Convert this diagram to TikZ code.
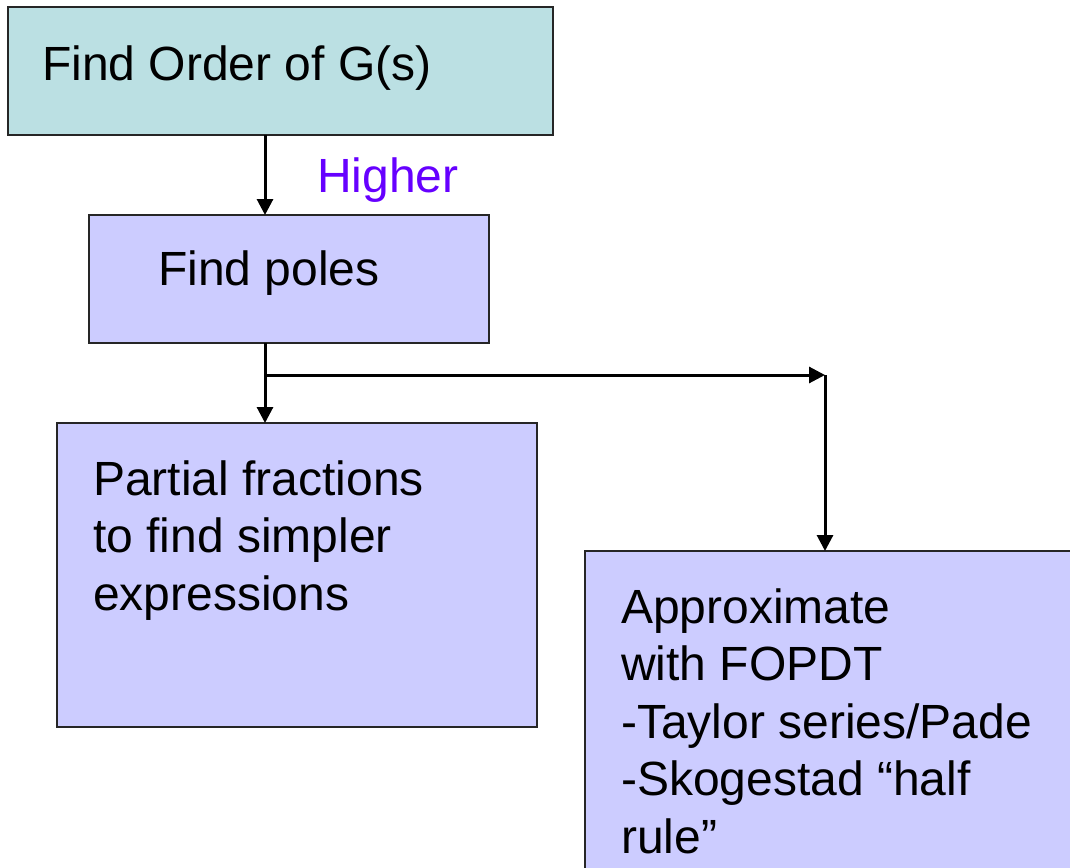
\documentclass[tikz,border=0pt]{standalone}
\usepackage{fontspec}
\setmainfont{Liberation Sans}
\usetikzlibrary{arrows.meta}

\definecolor{boxteal}{RGB}{187,224,227}
\definecolor{boxlilac}{RGB}{204,204,255}
\definecolor{branchpurple}{RGB}{102,0,255}

\begin{document}
\begin{tikzpicture}[
  x=1pt, y=-1pt,
  stepbox/.style={draw=black!85, line width=1.5pt, inner sep=0pt, outer sep=0pt, anchor=north west},
  boxtext/.style={anchor=base west, align=left, inner sep=0pt, font=\fontsize{48}{57.5}\selectfont},
  flow/.style={-{Triangle[length=16pt, width=16pt]}, line width=3pt, draw=black}
]

% Canvas
\useasboundingbox (0,0) rectangle (1070,867);
\clip (0,0) rectangle (1070,867);

%% BOXES

  % Order of the transfer function
  \node[stepbox, fill=boxteal, minimum width=545pt, minimum height=128pt] (order) at (8,7) {};
  \node[boxtext] (orderText) at (42,80) {Find Order of G(s)};

  % Poles
  \node[stepbox, fill=boxlilac, minimum width=400pt, minimum height=128pt] (poles) at (89,215) {};
  \node[boxtext] (polesText) at (158,285) {Find poles};

  % Partial fractions (text placed by its last line)
  \node[stepbox, fill=boxlilac, minimum width=480pt, minimum height=304pt] (partial) at (57,423) {};
  \node[boxtext] (partialText) at (93,610) {Partial fractions\\to find simpler\\expressions};

  % Approximation (runs off the page)
  \node[stepbox, fill=boxlilac, minimum width=520pt, minimum height=340pt] (approx) at (585,551) {};
  \node[boxtext] (approxText) at (621,853) {Approximate\\with FOPDT\\-Taylor series/Pade\\-Skogestad “half\\rule”};

%% CONNECTORS

  \coordinate (trunk) at (265,0);
  \coordinate (split) at (265,375);
  \coordinate (corner) at (825,375);

  \draw[flow] (order.south -| trunk) -- (poles.north -| trunk);
  \node[boxtext, text=branchpurple] (higher) at (317,192) {Higher};

  \draw[flow] (poles.south -| split) -- (partial.north -| split);
  \draw[flow] (split) -- (corner);
  \draw[flow] (corner) -- (approx.north -| corner);

\end{tikzpicture}
\end{document}
